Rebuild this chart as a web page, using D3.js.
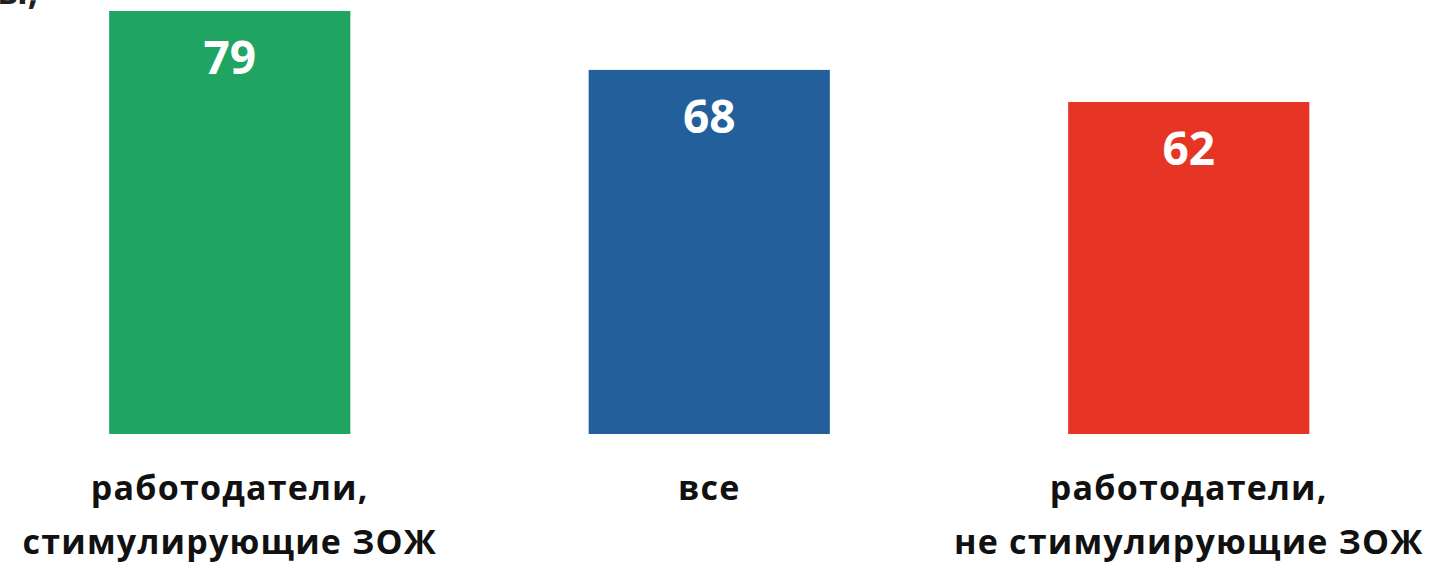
<!DOCTYPE html>
<html><head><meta charset="utf-8">
<script src="https://cdn.jsdelivr.net/npm/d3@7"></script>
<style>html,body{margin:0;padding:0;background:#fff;overflow:hidden}</style>
</head><body>
<svg id="chart" width="1435" height="563"></svg>
<script>
const categories = [["работодатели,", "стимулирующие ЗОЖ"], ["все"], ["работодатели,", "не стимулирующие ЗОЖ"]];
const values = [79, 68, 62];
const colors = ["#1fa461", "#23609b", "#e63425"];
const fragment = "ы,";

const svg = d3.select("#chart");
const font = "'Open Sans', 'Noto Sans', sans-serif";

const x = d3.scaleBand().domain(d3.range(categories.length))
  .range([-10, 1428.5]).paddingInner(0.497).paddingOuter(0.2485);
const y = d3.scaleLinear().domain([0, 79]).range([434, 11]);

// cut-off title fragment at top-left (as in the reference)
svg.append("text").attr("x", 38).attr("y", 4).attr("text-anchor", "end")
  .attr("font-family", font).attr("font-weight", 700).attr("font-size", 36)
  .attr("fill", "#231f20").text(fragment);

svg.selectAll("rect.bar").data(values).join("rect").attr("class", "bar")
  .attr("x", (d, i) => x(i)).attr("width", x.bandwidth())
  .attr("y", d => y(d)).attr("height", d => y(0) - y(d))
  .attr("fill", (d, i) => colors[i]);

svg.selectAll("text.val").data(values).join("text").attr("class", "val")
  .attr("x", (d, i) => x(i) + x.bandwidth() / 2)
  .attr("y", d => y(d) + 63)
  .attr("text-anchor", "middle").attr("fill", "#fff")
  .attr("font-family", font).attr("font-weight", 700).attr("font-size", 46)
  .text(d => d);

const lab = svg.selectAll("text.cat").data(categories).join("text").attr("class", "cat")
  .attr("text-anchor", "middle").attr("fill", "#111")
  .attr("font-family", font).attr("font-weight", 700).attr("font-size", 34)
  .attr("letter-spacing", 1.2);
lab.each(function(lines, i) {
  const t = d3.select(this);
  lines.forEach((l, j) => {
    t.append("tspan").attr("x", x(i) + x.bandwidth() / 2).attr("y", 500 + j * 54).text(l);
  });
});
</script>
</body></html>
